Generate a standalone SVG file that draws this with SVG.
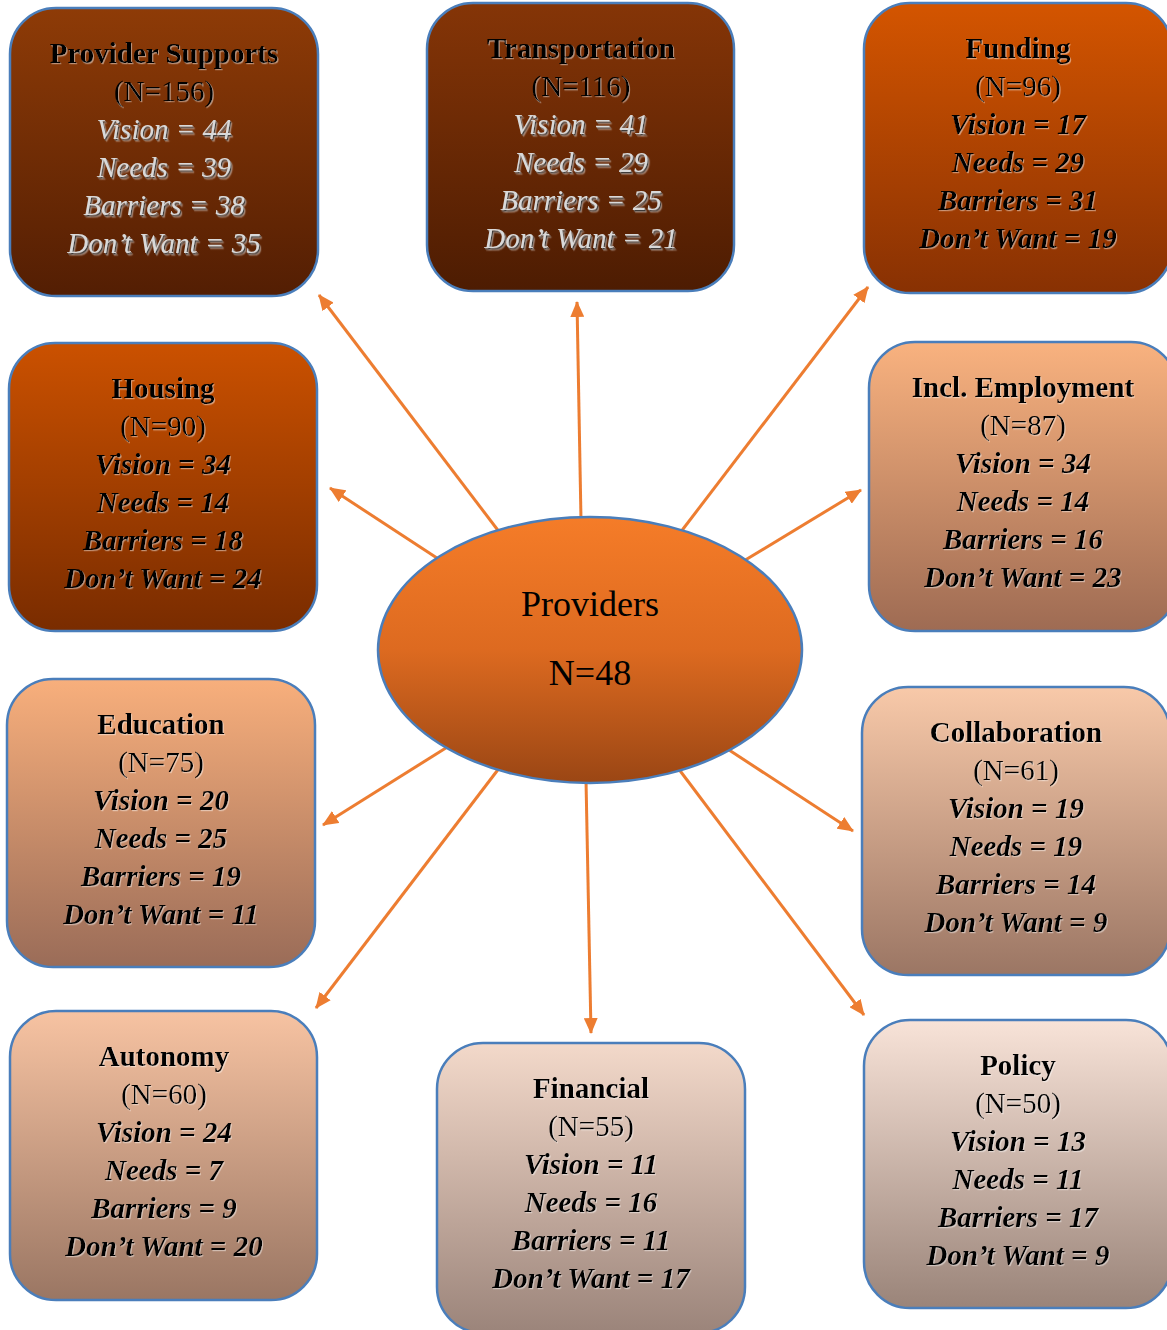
<svg xmlns="http://www.w3.org/2000/svg" width="1167" height="1330" viewBox="0 0 1167 1330">
<defs>
<linearGradient id="gPs" x1="0" y1="0" x2="0" y2="1"><stop offset="0" stop-color="#8e3b07"/><stop offset="1" stop-color="#531e03"/></linearGradient>
<linearGradient id="gTr" x1="0" y1="0" x2="0" y2="1"><stop offset="0" stop-color="#853507"/><stop offset="1" stop-color="#4d1c02"/></linearGradient>
<linearGradient id="gFu" x1="0" y1="0" x2="0" y2="1"><stop offset="0" stop-color="#d45500"/><stop offset="1" stop-color="#883103"/></linearGradient>
<linearGradient id="gHo" x1="0" y1="0" x2="0" y2="1"><stop offset="0" stop-color="#cb5100"/><stop offset="1" stop-color="#792c00"/></linearGradient>
<linearGradient id="gIe" x1="0" y1="0" x2="0" y2="1"><stop offset="0" stop-color="#f9b27f"/><stop offset="1" stop-color="#9e6b53"/></linearGradient>
<linearGradient id="gEd" x1="0" y1="0" x2="0" y2="1"><stop offset="0" stop-color="#f8af7c"/><stop offset="1" stop-color="#9a6c58"/></linearGradient>
<linearGradient id="gCo" x1="0" y1="0" x2="0" y2="1"><stop offset="0" stop-color="#f8c9a9"/><stop offset="1" stop-color="#9b7664"/></linearGradient>
<linearGradient id="gAu" x1="0" y1="0" x2="0" y2="1"><stop offset="0" stop-color="#f7c3a2"/><stop offset="1" stop-color="#9a7663"/></linearGradient>
<linearGradient id="gFi" x1="0" y1="0" x2="0" y2="1"><stop offset="0" stop-color="#f3d9ca"/><stop offset="1" stop-color="#9b847a"/></linearGradient>
<linearGradient id="gPo" x1="0" y1="0" x2="0" y2="1"><stop offset="0" stop-color="#f8e3d8"/><stop offset="1" stop-color="#9a8479"/></linearGradient>
<linearGradient id="gEl" x1="0" y1="0" x2="0" y2="1"><stop offset="0" stop-color="#f57c28"/><stop offset="0.5" stop-color="#dd6a20"/><stop offset="1" stop-color="#9a4614"/></linearGradient>
<filter id="shLight" x="-10%" y="-10%" width="120%" height="130%"><feDropShadow dx="1" dy="1.2" stdDeviation="0.6" flood-color="#ffffff" flood-opacity="0.45"/></filter>
<filter id="shDark" x="-10%" y="-10%" width="120%" height="130%"><feDropShadow dx="1.2" dy="1.5" stdDeviation="0.6" flood-color="#000000" flood-opacity="0.9"/></filter>
<marker id="ah" markerUnits="userSpaceOnUse" markerWidth="16" markerHeight="14" refX="15" refY="7" orient="auto"><path d="M0,0 L16,7 L0,14 z" fill="#ed7d31"/></marker>
</defs>
<style>
.box{stroke:#4a7ebb;stroke-width:2.5}
.t{font-family:"Liberation Serif","Times New Roman",serif;font-size:29px;text-anchor:middle;fill:#000}
.b{font-weight:bold}
.n{font-weight:normal;font-style:normal}
.s{font-style:italic;font-weight:bold}
.sl{font-style:italic;font-weight:normal;fill:#d9d9d9;filter:url(#shDark)}
.dk{filter:url(#shLight)}
.cn line{stroke:#ed7d31;stroke-width:3;marker-end:url(#ah)}
.ct{font-family:"Liberation Serif","Times New Roman",serif;font-size:36px;text-anchor:middle;fill:#000}
</style>
<rect width="1167" height="1330" fill="#ffffff"/>
<g id="connectors" class="cn">
<line x1="500" y1="533" x2="319" y2="295"/>
<line x1="581" y1="520" x2="577" y2="302"/>
<line x1="680" y1="533" x2="868" y2="287"/>
<line x1="440" y1="560" x2="330" y2="488"/>
<line x1="742" y1="562" x2="861" y2="490"/>
<line x1="449" y1="746" x2="323" y2="825"/>
<line x1="726" y1="748" x2="853" y2="831"/>
<line x1="500" y1="767" x2="316" y2="1008"/>
<line x1="586" y1="780" x2="591" y2="1033"/>
<line x1="678" y1="768" x2="864" y2="1015"/>
</g>
<g id="providers">
<ellipse cx="590" cy="650" rx="212" ry="133" fill="url(#gEl)" stroke="#4a7ebb" stroke-width="2.5"/>
<text class="ct" x="590" y="616">Providers</text>
<text class="ct" x="590" y="685">N=48</text>
</g>
<g id="provider-supports">
<rect class="box" x="10" y="8" width="308" height="288" rx="46" fill="url(#gPs)"/>
<text class="t dk" x="164"><tspan x="164" y="63" class="b">Provider Supports</tspan><tspan x="164" y="101" class="n">(N=156)</tspan><tspan x="164" y="139" class="sl">Vision = 44</tspan><tspan x="164" y="177" class="sl">Needs = 39</tspan><tspan x="164" y="215" class="sl">Barriers = 38</tspan><tspan x="164" y="253" class="sl">Don’t Want = 35</tspan></text>
</g>
<g id="transportation">
<rect class="box" x="427" y="3" width="307" height="288" rx="46" fill="url(#gTr)"/>
<text class="t dk" x="581"><tspan x="581" y="58" class="b">Transportation</tspan><tspan x="581" y="96" class="n">(N=116)</tspan><tspan x="581" y="134" class="sl">Vision = 41</tspan><tspan x="581" y="172" class="sl">Needs = 29</tspan><tspan x="581" y="210" class="sl">Barriers = 25</tspan><tspan x="581" y="248" class="sl">Don’t Want = 21</tspan></text>
</g>
<g id="funding">
<rect class="box" x="864" y="3" width="308" height="290" rx="46" fill="url(#gFu)"/>
<text class="t dk" x="1018"><tspan x="1018" y="58" class="b">Funding</tspan><tspan x="1018" y="96" class="n">(N=96)</tspan><tspan x="1018" y="134" class="s">Vision = 17</tspan><tspan x="1018" y="172" class="s">Needs = 29</tspan><tspan x="1018" y="210" class="s">Barriers = 31</tspan><tspan x="1018" y="248" class="s">Don’t Want = 19</tspan></text>
</g>
<g id="housing">
<rect class="box" x="9" y="343" width="308" height="288" rx="46" fill="url(#gHo)"/>
<text class="t dk" x="163"><tspan x="163" y="398" class="b">Housing</tspan><tspan x="163" y="436" class="n">(N=90)</tspan><tspan x="163" y="474" class="s">Vision = 34</tspan><tspan x="163" y="512" class="s">Needs = 14</tspan><tspan x="163" y="550" class="s">Barriers = 18</tspan><tspan x="163" y="588" class="s">Don’t Want = 24</tspan></text>
</g>
<g id="incl-employment">
<rect class="box" x="869" y="342" width="308" height="289" rx="46" fill="url(#gIe)"/>
<text class="t dk" x="1023"><tspan x="1023" y="397" class="b">Incl. Employment</tspan><tspan x="1023" y="435" class="n">(N=87)</tspan><tspan x="1023" y="473" class="s">Vision = 34</tspan><tspan x="1023" y="511" class="s">Needs = 14</tspan><tspan x="1023" y="549" class="s">Barriers = 16</tspan><tspan x="1023" y="587" class="s">Don’t Want = 23</tspan></text>
</g>
<g id="education">
<rect class="box" x="7" y="679" width="308" height="288" rx="46" fill="url(#gEd)"/>
<text class="t dk" x="161"><tspan x="161" y="734" class="b">Education</tspan><tspan x="161" y="772" class="n">(N=75)</tspan><tspan x="161" y="810" class="s">Vision = 20</tspan><tspan x="161" y="848" class="s">Needs = 25</tspan><tspan x="161" y="886" class="s">Barriers = 19</tspan><tspan x="161" y="924" class="s">Don’t Want = 11</tspan></text>
</g>
<g id="collaboration">
<rect class="box" x="862" y="687" width="308" height="288" rx="46" fill="url(#gCo)"/>
<text class="t dk" x="1016"><tspan x="1016" y="742" class="b">Collaboration</tspan><tspan x="1016" y="780" class="n">(N=61)</tspan><tspan x="1016" y="818" class="s">Vision = 19</tspan><tspan x="1016" y="856" class="s">Needs = 19</tspan><tspan x="1016" y="894" class="s">Barriers = 14</tspan><tspan x="1016" y="932" class="s">Don’t Want = 9</tspan></text>
</g>
<g id="autonomy">
<rect class="box" x="10" y="1011" width="307" height="289" rx="46" fill="url(#gAu)"/>
<text class="t dk" x="164"><tspan x="164" y="1066" class="b">Autonomy</tspan><tspan x="164" y="1104" class="n">(N=60)</tspan><tspan x="164" y="1142" class="s">Vision = 24</tspan><tspan x="164" y="1180" class="s">Needs = 7</tspan><tspan x="164" y="1218" class="s">Barriers = 9</tspan><tspan x="164" y="1256" class="s">Don’t Want = 20</tspan></text>
</g>
<g id="financial">
<rect class="box" x="437" y="1043" width="308" height="290" rx="46" fill="url(#gFi)"/>
<text class="t dk" x="591"><tspan x="591" y="1098" class="b">Financial</tspan><tspan x="591" y="1136" class="n">(N=55)</tspan><tspan x="591" y="1174" class="s">Vision = 11</tspan><tspan x="591" y="1212" class="s">Needs = 16</tspan><tspan x="591" y="1250" class="s">Barriers = 11</tspan><tspan x="591" y="1288" class="s">Don’t Want = 17</tspan></text>
</g>
<g id="policy">
<rect class="box" x="864" y="1020" width="308" height="288" rx="46" fill="url(#gPo)"/>
<text class="t dk" x="1018"><tspan x="1018" y="1075" class="b">Policy</tspan><tspan x="1018" y="1113" class="n">(N=50)</tspan><tspan x="1018" y="1151" class="s">Vision = 13</tspan><tspan x="1018" y="1189" class="s">Needs = 11</tspan><tspan x="1018" y="1227" class="s">Barriers = 17</tspan><tspan x="1018" y="1265" class="s">Don’t Want = 9</tspan></text>
</g>
</svg>
